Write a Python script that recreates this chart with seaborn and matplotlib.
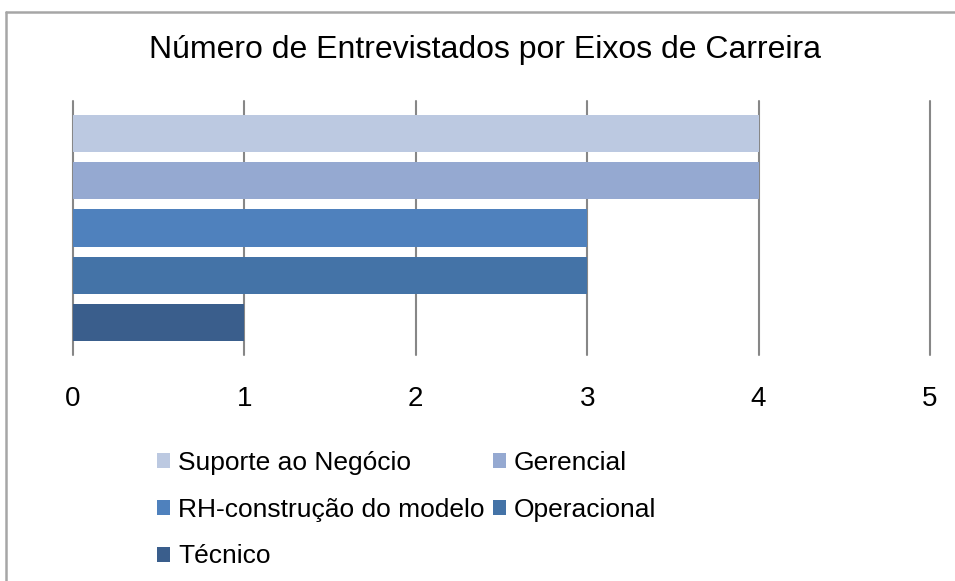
import matplotlib
matplotlib.use("Agg")
import matplotlib.pyplot as plt
from matplotlib.lines import Line2D
import seaborn as sns
import pandas as pd

# ---- data ----
categories = ["Suporte ao Negócio", "Gerencial", "RH-construção do modelo",
              "Operacional", "Técnico"]
values = [4, 4, 3, 3, 1]
colors = ["#BCC9E1", "#95A9D1", "#4F81BD", "#4473A7", "#3A5E8C"]
xticks = [0, 1, 2, 3, 4, 5]
title = "Número de Entrevistados por Eixos de Carreira"

sns.set_theme(style="white")
plt.rcParams['font.family'] = ['Liberation Sans', 'DejaVu Sans']
plt.rcParams['text.color'] = 'black'

W, H = 955, 581
fig = plt.figure(figsize=(W / 100, H / 100), dpi=100)
ax = fig.add_axes([73 / W, 1 - 355 / H, (930 - 73) / W, (355 - 101) / H])

df = pd.DataFrame({"cat": categories, "val": values})
sns.barplot(data=df, x="val", y="cat", hue="cat", palette=colors,
            orient="h", width=0.787, dodge=False, legend=True, ax=ax,
            saturation=1, linewidth=0)

ax.set_xlim(0, 5)
ax.set_ylim(4.69, -0.69)
ax.set_xticks(xticks)
ax.set_xticklabels([str(t) for t in xticks], fontsize=20, color="black")
ax.set_yticks([])
ax.set_xlabel("")
ax.set_ylabel("")
for s in ax.spines.values():
    s.set_visible(False)
ax.set_axisbelow(True)
ax.xaxis.grid(True, color="#878787", linewidth=1.5)
for gl in ax.get_xgridlines():
    gl.set_clip_on(False)
ax.tick_params(axis="x", length=0, pad=22)

# legend (row-major order: two per row)
handles, labels = ax.get_legend_handles_labels()
ax.legend_.remove()
order = [0, 2, 4, 1, 3]
fig.legend([handles[i] for i in order], [labels[i] for i in order],
           loc="upper left",
           bbox_to_anchor=(157 / W, 1 - 451 / H), ncol=2, frameon=False,
           fontsize=19, handlelength=0.5, handleheight=0.5,
           handletextpad=0.3, columnspacing=0.3, labelspacing=0.86,
           borderpad=0, borderaxespad=0, labelcolor="black")

fig.text(485 / W, 1 - 50 / H, title, ha="center", va="center",
         fontsize=23, color="black")

# chart frame (left and top edges visible)
fig.add_artist(Line2D([5.5 / W, 5.5 / W], [0, 1 - 11.5 / H],
                      color="#A6A6A6", lw=1.8, transform=fig.transFigure))
fig.add_artist(Line2D([5.5 / W, 1], [1 - 11.5 / H, 1 - 11.5 / H],
                      color="#A6A6A6", lw=1.8, transform=fig.transFigure))

fig.savefig("out.png", dpi=100)
